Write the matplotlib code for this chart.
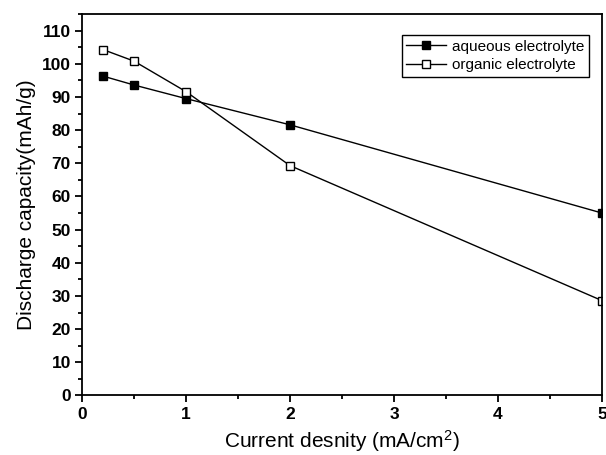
import matplotlib
matplotlib.use("Agg")
import matplotlib.pyplot as plt
from matplotlib.ticker import MultipleLocator

plt.rcParams['font.family'] = ['Liberation Sans', 'DejaVu Sans']
plt.rcParams['mathtext.default'] = 'regular'

# discharge capacity vs current density
current_density = [0.2, 0.5, 1, 2, 5]
aqueous = [96.3, 93.6, 89.5, 81.6, 55.0]
organic = [104.3, 100.8, 91.6, 69.3, 28.6]

fig = plt.figure(figsize=(6.06, 4.55), dpi=100)
ax = fig.add_axes([0.1353, 0.1308, 0.8581, 0.8384])

ax.plot(current_density, aqueous, color='black', lw=1, marker='s', ms=6,
        mfc='black', mec='black', label='aqueous electrolyte')
ax.plot(current_density, organic, color='black', lw=1, marker='s', ms=6,
        mfc='white', mec='black', label='organic electrolyte')

ax.set_xlim(0, 5)
ax.set_ylim(0, 115)
ax.xaxis.set_major_locator(MultipleLocator(1))
ax.xaxis.set_minor_locator(MultipleLocator(0.5))
ax.yaxis.set_minor_locator(MultipleLocator(5))
ax.set_yticks(range(0, 111, 10))

ax.tick_params(which='both', direction='out', width=1.3, top=False, right=False)
ax.tick_params(which='major', length=5, labelsize=12.5, pad=3)
ax.tick_params(which='minor', length=3)
for lab in ax.get_xticklabels() + ax.get_yticklabels():
    lab.set_fontweight('bold')
for sp in ax.spines.values():
    sp.set_linewidth(1.3)

ax.set_xlabel(r'Current desnity (mA/cm$^2$)', fontsize=15, labelpad=5)
ax.set_ylabel('Discharge capacity(mAh/g)', fontsize=15, labelpad=4)

leg = ax.legend(loc='upper right', bbox_to_anchor=(0.975, 0.945), fontsize=11,
                fancybox=False, edgecolor='black', framealpha=1,
                handlelength=2.6, borderpad=0.3, labelspacing=0.3,
                handletextpad=0.4, borderaxespad=0)
leg.get_frame().set_linewidth(1)

fig.savefig('out.png', dpi=100)
